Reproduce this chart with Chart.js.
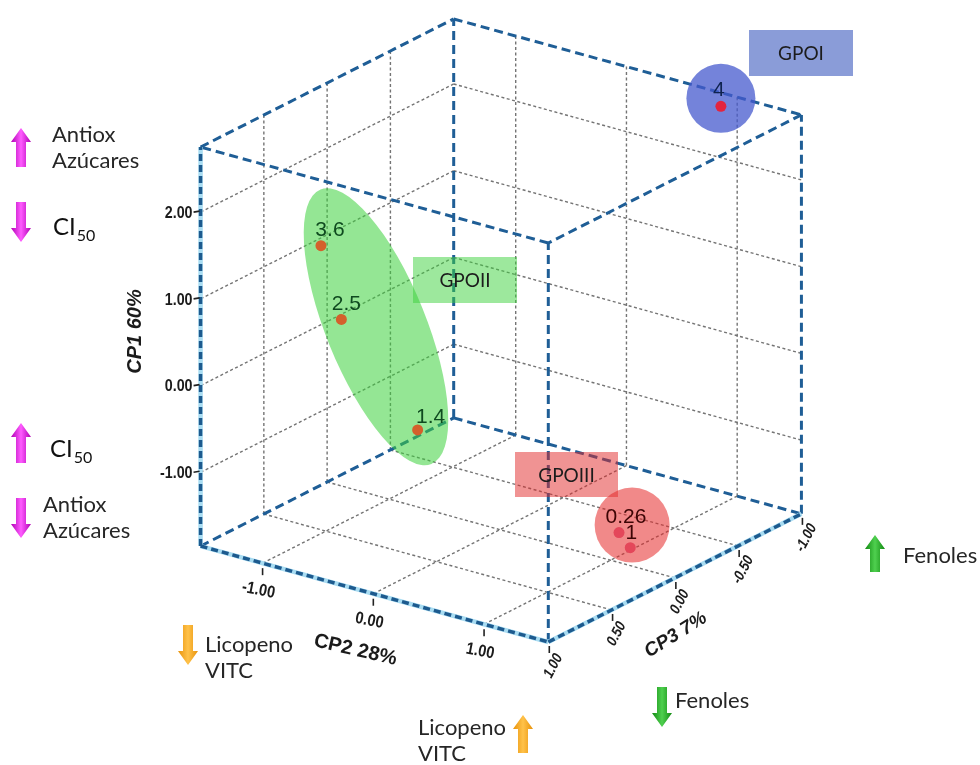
<!DOCTYPE html>
<html>
<head>
<meta charset="utf-8">
<script src="https://cdn.jsdelivr.net/npm/chart.js@4.4.1/dist/chart.umd.min.js"></script>
<style>
  html, body { margin: 0; padding: 0; background: #ffffff; overflow: hidden; }
  canvas { display: block; }
</style>
</head>
<body>
<canvas id="pca" width="980" height="765"></canvas>
<script>
// ---- PCA scores (sample id, group, component scores) ----
const sampleLabels = ['4', '3.6', '2.5', '1.4', '0.26', '1'];
const sampleGroups = ['GPOI', 'GPOII', 'GPOII', 'GPOII', 'GPOIII', 'GPOIII'];
const cp1Values = [2.65, 1.54, 0.64, -0.62, -1.39, -1.70];
const cp2Values = [0.91, -0.93, -0.86, -0.40, 1.19, 1.12];
const cp3Values = [-0.95, 0.60, 0.50, 0.30, 0.10, -0.05];

// ---- axes ----
const cp1Ticks = [-1, 0, 1, 2];
const cp2Ticks = [-1, 0, 1];
const cp3Ticks = [1, 0.5, 0, -0.5, -1];
const cp1Range = [-1.85, 2.75];
const cp2Range = [-1.56, 1.58];
const cp3Range = [-1, 1];
const axisTitles = ['CP1 60%', 'CP2 28%', 'CP3 7%'];

// oblique projection of (CP2, CP3, CP1) onto the drawing plane
function project(c2, c3, c1) {
  return { x: 112 * c2 - 128 * c3, y: 88 * c1 - 31 * c2 - 65 * c3 };
}

const FONT_UI = '"Lato", "Open Sans", sans-serif';
const FONT_AX = '"Liberation Sans", Arial, sans-serif';

const groupStyle = {
  GPOI:   { dot: '#e3243f', text: '#0f2350', fill: 'rgba(70,90,205,0.75)',
            blob: { type: 'circle', dx: 0, dy: -8, r: 34.5 },
            box: { x: 749, y: 30, w: 104, h: 46, fill: 'rgba(60,90,190,0.6)' } },
  GPOII:  { dot: '#d4602c', text: '#0f4a1f', fill: 'rgba(60,210,60,0.55)',
            blob: { type: 'ellipse', dx: 16, dy: -5, rx: 50, ry: 148, rot: -22 },
            box: { x: 413, y: 257, w: 104, h: 46, fill: 'rgba(60,210,60,0.5)' } },
  GPOIII: { dot: '#e4475a', text: '#3d0505', fill: 'rgba(230,40,40,0.55)',
            blob: { type: 'circle', dx: 7.5, dy: -15, r: 37.5 },
            box: { x: 515, y: 452, w: 103, h: 45, fill: 'rgba(225,40,40,0.5)' } }
};
const labelOffset = { '4': [-2, -16], '3.6': [9, -15], '2.5': [5, -15], '1.4': [13, -13], '0.26': [7, -15], '1': [1, -14] };

// ---- wireframe: back walls, floor and cube edges ----
const [c1lo, c1hi] = cp1Range, [c2lo, c2hi] = cp2Range, [c3lo, c3hi] = cp3Range;
const cp3Inner = cp3Ticks.filter(t => t > c3lo && t < c3hi);
const gridSegs = [];
cp3Inner.forEach(t => gridSegs.push([[c2lo, t, c1lo], [c2lo, t, c1hi]]));
cp1Ticks.forEach(v => gridSegs.push([[c2lo, c3lo, v], [c2lo, c3hi, v]]));
cp2Ticks.forEach(t => gridSegs.push([[t, c3lo, c1lo], [t, c3lo, c1hi]]));
cp1Ticks.forEach(v => gridSegs.push([[c2lo, c3lo, v], [c2hi, c3lo, v]]));
cp2Ticks.forEach(t => gridSegs.push([[t, c3lo, c1lo], [t, c3hi, c1lo]]));
cp3Inner.forEach(s => gridSegs.push([[c2lo, s, c1lo], [c2hi, s, c1lo]]));

const edgeSegs = [
  [[c2lo, c3hi, c1hi], [c2lo, c3lo, c1hi]], [[c2lo, c3lo, c1hi], [c2hi, c3lo, c1hi]],
  [[c2hi, c3lo, c1hi], [c2hi, c3hi, c1hi]], [[c2hi, c3hi, c1hi], [c2lo, c3hi, c1hi]],
  [[c2lo, c3lo, c1lo], [c2lo, c3lo, c1hi]], [[c2hi, c3lo, c1lo], [c2hi, c3lo, c1hi]],
  [[c2hi, c3hi, c1lo], [c2hi, c3hi, c1hi]],
  [[c2lo, c3hi, c1lo], [c2lo, c3lo, c1lo]], [[c2lo, c3lo, c1lo], [c2hi, c3lo, c1lo]]
];
// the three axis edges carry the tick marks
const axisSegs = [
  [[c2lo, c3hi, c1lo], [c2lo, c3hi, c1hi]],
  [[c2lo, c3hi, c1lo], [c2hi, c3hi, c1lo]],
  [[c2hi, c3hi, c1lo], [c2hi, c3lo, c1lo]]
];

// higher "order" is painted first (underneath)
function seg(a, b, color, width, dash, order) {
  return {
    data: [project(...a), project(...b)], showLine: true, pointRadius: 0, order,
    borderColor: color, borderWidth: width, borderDash: dash, fill: false, borderCapStyle: 'butt'
  };
}

const datasets = [];
gridSegs.forEach(s => datasets.push(seg(s[0], s[1], '#747474', 1.4, [3, 2.5], 5)));
edgeSegs.forEach(s => datasets.push(seg(s[0], s[1], '#1f5e96', 3, [9, 5], 4)));
axisSegs.forEach(s => datasets.push(seg(s[0], s[1], '#a8dcf2', 4.5, [], 3)));
axisSegs.forEach(s => datasets.push(seg(s[0], s[1], '#1d5a8e', 3.5, [7, 4], 2)));
const pointIndex = datasets.length;
datasets.push({
  data: sampleLabels.map((_, i) => project(cp2Values[i], cp3Values[i], cp1Values[i])),
  showLine: false, pointRadius: 5.5, pointBorderWidth: 0, order: 1,
  pointBackgroundColor: sampleGroups.map(g => groupStyle[g].dot)
});

function toPx(chart, p) {
  return { x: chart.scales.x.getPixelForValue(p.x), y: chart.scales.y.getPixelForValue(p.y) };
}
function text(ctx, str, x, y, o) {
  ctx.save();
  ctx.translate(x, y);
  if (o.rot) ctx.rotate(o.rot * Math.PI / 180);
  if (o.sx) ctx.scale(o.sx, 1);
  ctx.font = o.font; ctx.fillStyle = o.color || '#1a1a1a';
  ctx.textAlign = o.align || 'left'; ctx.textBaseline = o.base || 'alphabetic';
  ctx.fillText(str, 0, 0);
  ctx.restore();
}
function arrow(ctx, x, yTop, yBot, dir, edge, mid) {
  const shaft = 10, head = 20, hl = 14;
  const g = ctx.createLinearGradient(x - head / 2, 0, x + head / 2, 0);
  g.addColorStop(0, edge); g.addColorStop(0.5, mid); g.addColorStop(1, edge);
  ctx.save(); ctx.fillStyle = g; ctx.beginPath();
  if (dir === 'up') {
    ctx.moveTo(x, yTop); ctx.lineTo(x + head / 2, yTop + hl); ctx.lineTo(x + shaft / 2, yTop + hl);
    ctx.lineTo(x + shaft / 2, yBot); ctx.lineTo(x - shaft / 2, yBot); ctx.lineTo(x - shaft / 2, yTop + hl);
    ctx.lineTo(x - head / 2, yTop + hl);
  } else {
    ctx.moveTo(x, yBot); ctx.lineTo(x + head / 2, yBot - hl); ctx.lineTo(x + shaft / 2, yBot - hl);
    ctx.lineTo(x + shaft / 2, yTop); ctx.lineTo(x - shaft / 2, yTop); ctx.lineTo(x - shaft / 2, yBot - hl);
    ctx.lineTo(x - head / 2, yBot - hl);
  }
  ctx.closePath(); ctx.fill(); ctx.restore();
}

const groupShapes = {
  id: 'groupShapes',
  beforeDatasetDraw(chart, args) {
    if (args.index !== pointIndex) return;
    const ctx = chart.ctx;
    Object.keys(groupStyle).forEach(g => {
      const st = groupStyle[g];
      const pts = sampleLabels.map((_, i) => i).filter(i => sampleGroups[i] === g)
        .map(i => toPx(chart, project(cp2Values[i], cp3Values[i], cp1Values[i])));
      const cx = pts.reduce((s, p) => s + p.x, 0) / pts.length + st.blob.dx;
      const cy = pts.reduce((s, p) => s + p.y, 0) / pts.length + st.blob.dy;
      ctx.save();
      ctx.fillStyle = st.fill;
      ctx.beginPath();
      if (st.blob.type === 'circle') ctx.arc(cx, cy, st.blob.r, 0, Math.PI * 2);
      else ctx.ellipse(cx, cy, st.blob.rx, st.blob.ry, st.blob.rot * Math.PI / 180, 0, Math.PI * 2);
      ctx.fill();
      const b = st.box;
      ctx.fillStyle = b.fill;
      ctx.fillRect(b.x, b.y, b.w, b.h);
      ctx.restore();
      text(ctx, g, b.x + b.w / 2, b.y + b.h / 2 + 1, { font: '19px ' + FONT_UI, color: '#1c1c1c', align: 'center', base: 'middle' });
    });
  },
  afterDatasetsDraw(chart) {
    const ctx = chart.ctx;
    // sample ids
    sampleLabels.forEach((lab, i) => {
      const p = toPx(chart, project(cp2Values[i], cp3Values[i], cp1Values[i]));
      const o = labelOffset[lab];
      text(ctx, lab, p.x + o[0], p.y + o[1], { font: '21px ' + FONT_AX, color: groupStyle[sampleGroups[i]].text, align: 'center', base: 'middle' });
    });

    ctx.save();
    ctx.strokeStyle = '#222'; ctx.lineWidth = 1.6;
    // CP1 ticks and labels (left vertical edge)
    cp1Ticks.forEach(v => {
      const p = toPx(chart, project(c2lo, c3hi, v));
      ctx.beginPath(); ctx.moveTo(p.x - 7, p.y); ctx.lineTo(p.x - 1, p.y - 1); ctx.stroke();
      text(ctx, v.toFixed(2), p.x - 8, p.y + 1, { font: 'bold 17px ' + FONT_AX, sx: 0.84, align: 'right', base: 'middle', color: '#1b1b1b' });
    });
    // CP2 ticks and labels (front bottom edge)
    cp2Ticks.forEach(v => {
      const p = toPx(chart, project(v, c3hi, c1lo));
      ctx.beginPath(); ctx.moveTo(p.x, p.y + 5); ctx.lineTo(p.x, p.y + 12); ctx.stroke();
      text(ctx, v.toFixed(2), p.x - 4, p.y + 27, { font: 'bold 17px ' + FONT_AX, sx: 0.86, rot: 11, align: 'center', base: 'middle', color: '#1b1b1b' });
    });
    // CP3 ticks and labels (right bottom edge)
    cp3Ticks.forEach(v => {
      const p = toPx(chart, project(c2hi, v, c1lo));
      ctx.beginPath(); ctx.moveTo(p.x + 1, p.y + 4); ctx.lineTo(p.x + 1, p.y + 11); ctx.stroke();
      text(ctx, v.toFixed(2), p.x + 5, p.y + 24, { font: 'italic bold 15px ' + FONT_AX, sx: 0.85, rot: -62, align: 'center', base: 'middle', color: '#1b1b1b' });
    });
    ctx.restore();

    // axis titles
    const t1 = toPx(chart, project(c2lo, c3hi, (c1lo + c1hi) / 2));
    text(ctx, axisTitles[0], t1.x - 65, t1.y - 15, { font: 'italic bold 20px ' + FONT_AX, rot: -90, align: 'center', base: 'middle', color: '#1b1b1b' });
    const t2 = toPx(chart, project((c2lo + c2hi) / 2, c3hi, c1lo));
    text(ctx, axisTitles[1], t2.x - 19, t2.y + 56, { font: 'bold 20px ' + FONT_AX, rot: 13, align: 'center', base: 'middle', color: '#1b1b1b' });
    const t3 = toPx(chart, project(c2hi, (c3lo + c3hi) / 2, c1lo));
    text(ctx, axisTitles[2], t3.x + 1, t3.y + 57, { font: 'italic bold 19px ' + FONT_AX, rot: -32, align: 'center', base: 'middle', color: '#1b1b1b' });

    // variable direction notes
    const MAG = ['#b000b4', '#ff5cff'], ORA = ['#e8920a', '#ffc24a'], GRN = ['#128a12', '#4fd04f'];
    const note = (s, x, y) => text(ctx, s, x, y, { font: '22px ' + FONT_UI, color: '#262626' });
    const ci = (x, y) => {
      text(ctx, 'CI', x, y, { font: '24px ' + FONT_UI, color: '#111' });
      ctx.font = '24px ' + FONT_UI;
      const w = ctx.measureText('CI').width;
      text(ctx, '50', x + w + 1, y + 6, { font: '16px ' + FONT_UI, color: '#111' });
    };
    arrow(ctx, 21, 128, 167, 'up', MAG[0], MAG[1]);
    note('Antiox', 52, 142); note('Azúcares', 52, 168);
    arrow(ctx, 21, 202, 242, 'down', MAG[0], MAG[1]);
    ci(53, 235);
    arrow(ctx, 21, 423, 463, 'up', MAG[0], MAG[1]);
    ci(50, 457);
    arrow(ctx, 21, 498, 538, 'down', MAG[0], MAG[1]);
    note('Antiox', 43, 512); note('Azúcares', 43, 538);
    arrow(ctx, 188, 625, 665, 'down', ORA[0], ORA[1]);
    note('Licopeno', 205, 652); note('VITC', 205, 678);
    arrow(ctx, 523, 715, 753, 'up', ORA[0], ORA[1]);
    note('Licopeno', 418, 735); note('VITC', 418, 761);
    arrow(ctx, 662, 687, 727, 'down', GRN[0], GRN[1]);
    note('Fenoles', 675, 708);
    arrow(ctx, 875, 535, 572, 'up', GRN[0], GRN[1]);
    note('Fenoles', 903, 563);
  }
};

new Chart(document.getElementById('pca'), {
  type: 'scatter',
  data: { datasets },
  options: {
    responsive: false, animation: false, devicePixelRatio: 1,
    layout: { padding: 0 },
    elements: { line: { tension: 0 } },
    plugins: { legend: { display: false }, tooltip: { enabled: false } },
    scales: {
      x: { type: 'linear', display: false, min: -500, max: 480 },
      y: { type: 'linear', display: false, min: -396, max: 369 }
    }
  },
  plugins: [groupShapes]
});
</script>
</body>
</html>
